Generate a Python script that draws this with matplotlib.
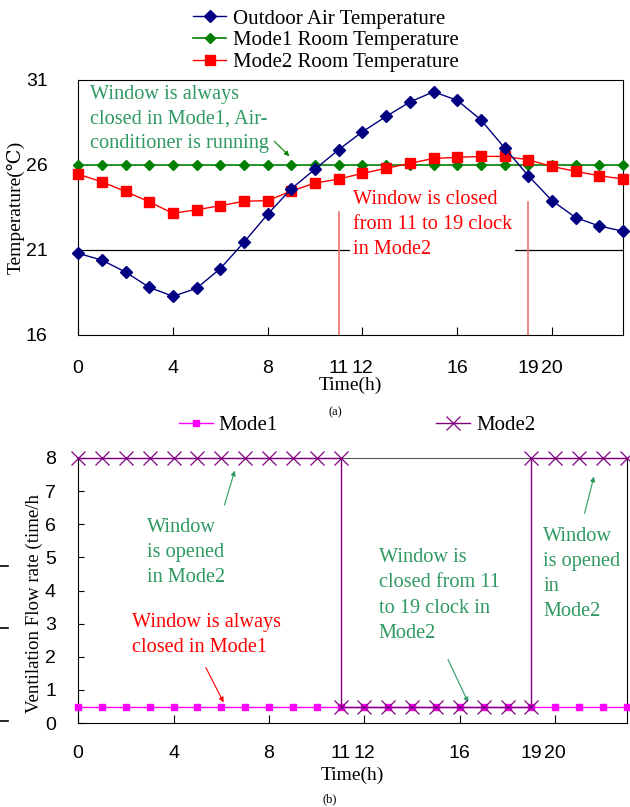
import matplotlib.pyplot as plt
from matplotlib.lines import Line2D

# data
hours = list(range(24))
outdoor = [20.8, 20.4, 19.7, 18.8, 18.27, 18.74, 19.9, 21.45, 23.1, 24.6, 25.75, 26.9,
           27.95, 28.85, 29.7, 30.3, 29.8, 28.65, 27.0, 25.36, 23.9, 22.9, 22.4, 22.1]
mode1_room = [26.0] * 24
mode2_room = [25.46, 25.0, 24.44, 23.83, 23.15, 23.36, 23.6, 23.86, 23.9, 24.46, 24.93, 25.17,
              25.5, 25.8, 26.09, 26.38, 26.44, 26.5, 26.5, 26.3, 25.91, 25.62, 25.36, 25.17]

vent_mode1 = [0.5] * 24
vent_mode2_h = list(range(0, 12)) + list(range(11, 20)) + list(range(19, 24))
vent_mode2 = [8] * 12 + [0.5] * 9 + [8] * 5

temp_yticks = [16, 21, 26, 31]
vent_yticks = [0, 1, 2, 3, 4, 5, 6, 7, 8]
major_x = [0, 4, 8, 12, 16, 20]
extra_x = [11, 19]

serif = ['Liberation Serif', 'DejaVu Serif']
sans = ['Liberation Sans', 'DejaVu Sans']
txt_green = '#2e9960'
fs_note = 14.6
fs_tick = 14
ls_note = 1.45

fig = plt.figure(figsize=(6.3, 8.07), dpi=100)

# ---------------- (a) temperature ----------------
ax1 = fig.add_axes([0.124, 0.585, 0.865, 0.316])
ax1.plot(hours, outdoor, color='#000080', lw=1, marker='D', ms=6.5, label='Outdoor Air Temperature',
         clip_on=False, zorder=4)
ax1.plot(hours, mode1_room, color='#008000', lw=1.2, marker='D', ms=5.5, label='Mode1 Room Temperature',
         clip_on=False, zorder=3)
ax1.plot(hours, mode2_room, color='#ff0000', lw=1, marker='s', ms=7, label='Mode2 Room Temperature',
         clip_on=False, zorder=3)
ax1.axhline(21, color='black', lw=0.9, zorder=1)
ax1.plot([11, 11], [16, 23.2], color='#f07070', lw=1.2, zorder=2)
ax1.plot([19, 19], [16, 23.8], color='#f07070', lw=1.2, zorder=2)

ax1.set_xlim(0, 23)
ax1.set_ylim(16, 31)
ax1.set_yticks(temp_yticks)
ax1.set_xticks(major_x)
ax1.set_xticks(extra_x, minor=True)
ax1.set_xticklabels([str(v) for v in major_x], family=sans, fontsize=fs_tick)
ax1.set_xticklabels([str(v) for v in extra_x], minor=True, family=sans, fontsize=fs_tick)
ax1.set_yticklabels([str(v) for v in temp_yticks], family=sans, fontsize=fs_tick)
ax1.tick_params(axis='x', which='major', direction='in', length=6, pad=18)
ax1.tick_params(axis='x', which='minor', length=0, pad=18)
ax1.tick_params(axis='y', length=0, pad=22)
ax1.set_xlabel('Time(h)', family=serif, fontsize=14, labelpad=0)
ax1.set_ylabel('Temperature(℃)', family=serif, fontsize=14, labelpad=1)

ax1.text(0.5, 30.7, 'Window is always\nclosed in Mode1, Air-\nconditioner is running', color=txt_green,
         family=serif, fontsize=fs_note, va='top', ha='left', linespacing=1.38, zorder=6,
         bbox=dict(facecolor='white', edgecolor='none', pad=2), clip_on=False)
ax1.annotate('', xy=(9.0, 26.4), xytext=(8.2, 27.5),
             arrowprops=dict(arrowstyle='-|>', color='#008000', lw=0.8, mutation_scale=7), zorder=6)
ax1.text(11.6, 22.5, 'Window is closed\nfrom 11 to 19 clock\nin Mode2', color='#ff0000',
         family=serif, fontsize=fs_note, va='center', ha='left', linespacing=ls_note, zorder=5,
         bbox=dict(facecolor='white', edgecolor='none', pad=2))

fig.legend(*ax1.get_legend_handles_labels(), loc='upper center', bbox_to_anchor=(0.517, 1.007),
           frameon=False, prop={'family': serif, 'size': 15}, labelspacing=0.1,
           handlelength=1.6, handletextpad=0.3, borderpad=0.2)

fig.text(0.532, 0.489, '(a)', family=serif, fontsize=9, ha='center', va='center')

# ---------------- (b) ventilation ----------------
ax2 = fig.add_axes([0.124, 0.104, 0.871, 0.3285])
ax2.plot(hours, vent_mode1, color='#ff00ff', lw=1, marker='s', ms=5, label='Mode1', clip_on=False, zorder=3)
ax2.plot(vent_mode2_h, vent_mode2, color='#800080', lw=1, marker='x', ms=10, mew=0.9, label='Mode2',
         clip_on=False, zorder=4)

ax2.set_xlim(0, 23)
ax2.set_ylim(0, 8)
ax2.set_yticks(vent_yticks)
ax2.set_xticks(major_x)
ax2.set_xticks(extra_x, minor=True)
ax2.set_xticklabels([str(v) for v in major_x], family=sans, fontsize=fs_tick)
ax2.set_xticklabels([str(v) for v in extra_x], minor=True, family=sans, fontsize=fs_tick)
ax2.set_yticklabels([str(v) for v in vent_yticks], family=sans, fontsize=fs_tick)
ax2.tick_params(axis='x', which='major', direction='in', length=6, pad=16)
ax2.tick_params(axis='x', which='minor', length=0, pad=16)
ax2.tick_params(axis='y', direction='in', length=4, pad=16)
ax2.spines['top'].set_color('#555555')
ax2.set_xlabel('Time(h)', family=serif, fontsize=14, labelpad=3)
ax2.set_ylabel('Ventilation Flow rate (time/h', family=serif, fontsize=13.6)
ax2.yaxis.set_label_coords(-0.064, 0.45)

ax2.text(2.9, 5.15, 'Window\nis opened\nin Mode2', color=txt_green, family=serif, fontsize=fs_note,
         va='center', ha='left', linespacing=ls_note)
ax2.annotate('', xy=(6.6, 7.7), xytext=(6.1, 6.5),
             arrowprops=dict(arrowstyle='-|>', color=txt_green, lw=0.8, mutation_scale=7))
ax2.text(2.25, 2.65, 'Window is always\nclosed in Mode1', color='#ff0000', family=serif, fontsize=fs_note,
         va='center', ha='left', linespacing=ls_note)
ax2.annotate('', xy=(6.15, 0.55), xytext=(5.3, 1.75),
             arrowprops=dict(arrowstyle='-|>', color='#ff0000', lw=0.8, mutation_scale=7))
ax2.text(12.6, 3.85, 'Window is\nclosed from 11\nto 19 clock in\nMode2', color=txt_green, family=serif,
         fontsize=fs_note, va='center', ha='left', linespacing=ls_note)
ax2.annotate('', xy=(16.4, 0.55), xytext=(15.45, 2.0),
             arrowprops=dict(arrowstyle='-|>', color=txt_green, lw=0.8, mutation_scale=7))
ax2.text(19.5, 4.5, 'Window\nis opened\nin\nMode2', color=txt_green, family=serif, fontsize=fs_note,
         va='center', ha='left', linespacing=ls_note)
ax2.annotate('', xy=(21.65, 7.52), xytext=(21.2, 6.25),
             arrowprops=dict(arrowstyle='-|>', color=txt_green, lw=0.8, mutation_scale=7))

fig.legend(*ax2.get_legend_handles_labels(), loc='center', bbox_to_anchor=(0.567, 0.473),
           ncol=2, frameon=False, prop={'family': serif, 'size': 15}, columnspacing=7.6,
           handlelength=1.6, handletextpad=0.3)

fig.text(0.524, 0.009, '(b)', family=serif, fontsize=9, ha='center', va='center')

# stray tick marks at the far left of the original
for yy in [0.2985, 0.2218, 0.1066]:
    fig.add_artist(Line2D([0.0, 0.013], [yy, yy], color='black', lw=1.2, transform=fig.transFigure))

fig.savefig('out.png', dpi=100)
